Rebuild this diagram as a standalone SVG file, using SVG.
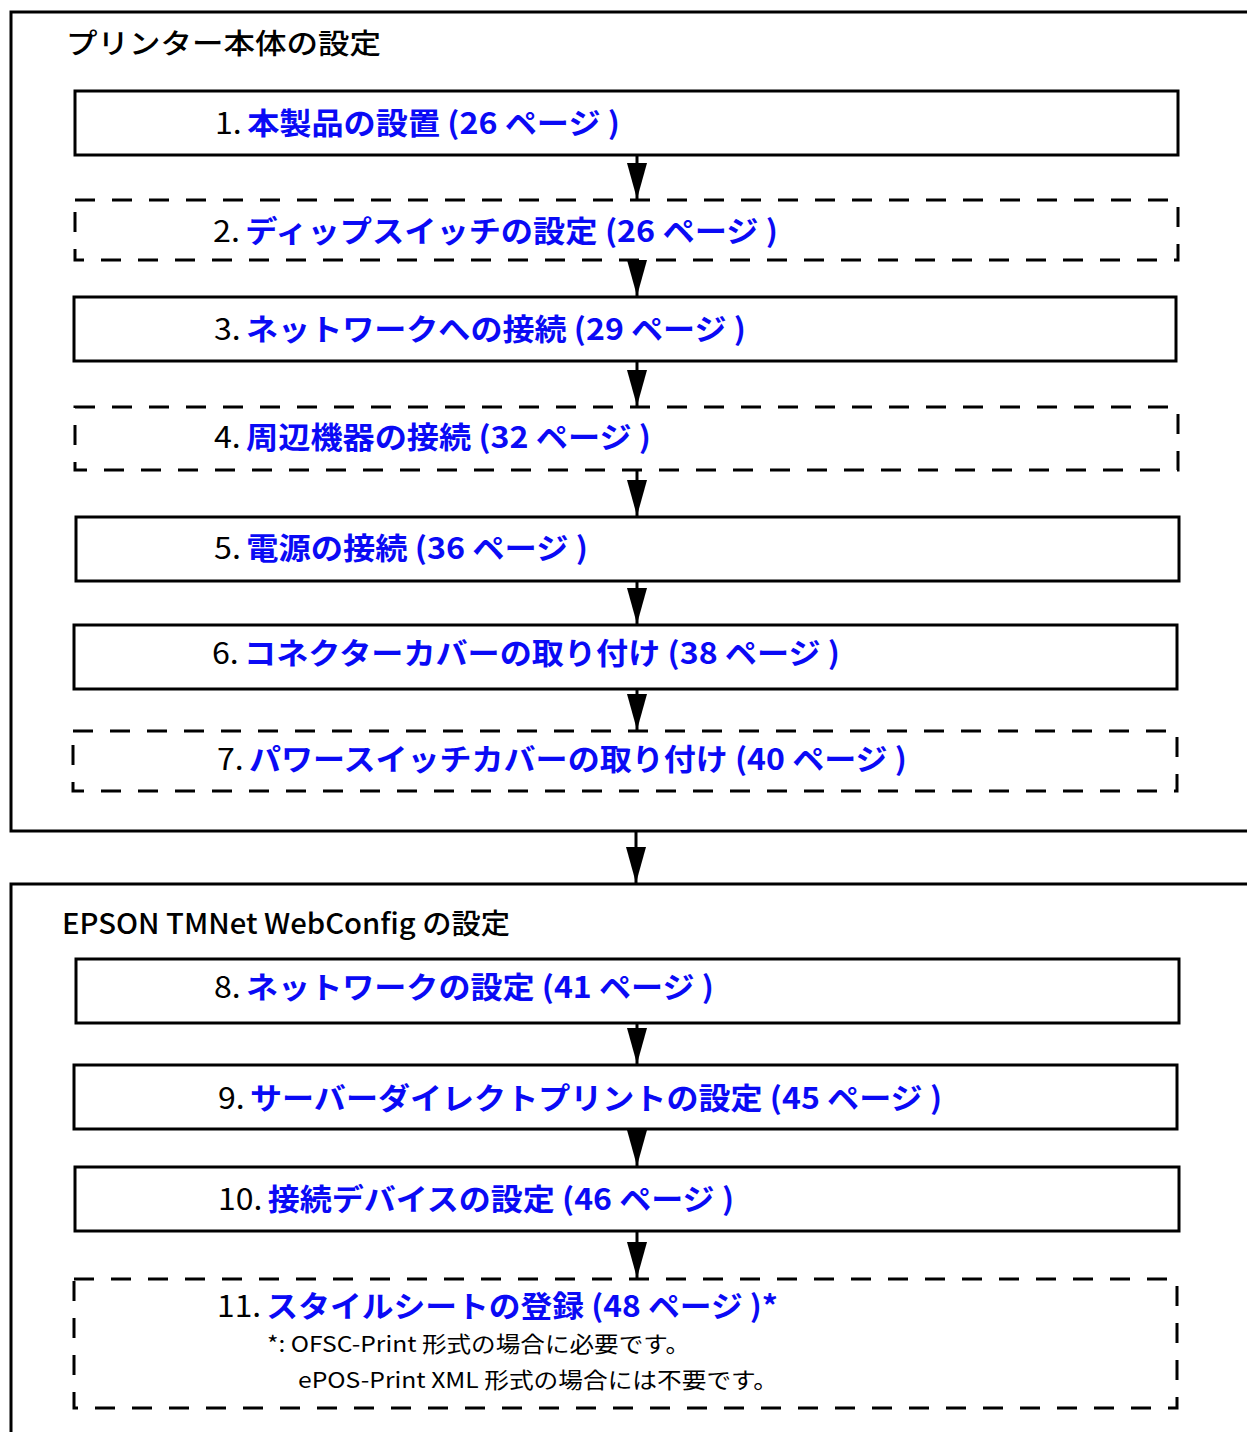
<svg xmlns="http://www.w3.org/2000/svg" width="1247" height="1432" viewBox="0 0 1247 1432">
<style>
.frame{fill:none;stroke:#000;stroke-width:3}
.box{fill:#fff;stroke:#000;stroke-width:3}
.dash{fill:#fff;stroke:#000;stroke-width:3;stroke-dasharray:20 17}
.lbl{font-family:"Noto Sans CJK JP","Noto Sans",sans-serif;font-size:30px;font-weight:bold}
.num{fill:#000;font-weight:normal}
.blue{fill:#0a0af5}
.title{font-family:"Noto Sans CJK JP","Noto Sans",sans-serif;font-size:28px;font-weight:500;fill:#000}
.note{font-family:"Noto Sans CJK JP","Noto Sans",sans-serif;font-size:22px;fill:#000}
.conn{stroke:#000;stroke-width:3;fill:none}
</style>
<defs>
<marker id="ah" markerUnits="userSpaceOnUse" markerWidth="36" markerHeight="20" viewBox="0 0 36 20" refX="36" refY="10" orient="auto">
<path d="M0,0 L36,10 L0,20 Z" fill="#000"/>
</marker>
</defs>
<rect width="1247" height="1432" fill="#fff"/>
<g id="group-printer">
<path class="frame" d="M1250,12 H11 V831 H1250"/>
<text class="title" x="66" y="54" textLength="315" lengthAdjust="spacingAndGlyphs">プリンター本体の設定</text>
</g>
<g id="group-webconfig">
<path class="frame" d="M1250,884 H11 V1440"/>
<text class="title" x="62" y="934" textLength="448" lengthAdjust="spacingAndGlyphs">EPSON TMNet WebConfig の設定</text>
</g>
<g id="connectors">
<line class="conn" x1="637" y1="155" x2="637" y2="199" marker-end="url(#ah)"/>
<line class="conn" x1="637" y1="260" x2="637" y2="296" marker-end="url(#ah)"/>
<line class="conn" x1="637" y1="361" x2="637" y2="406" marker-end="url(#ah)"/>
<line class="conn" x1="637" y1="470" x2="637" y2="516" marker-end="url(#ah)"/>
<line class="conn" x1="637" y1="581" x2="637" y2="624" marker-end="url(#ah)"/>
<line class="conn" x1="637" y1="689" x2="637" y2="730" marker-end="url(#ah)"/>
<line class="conn" x1="636" y1="831" x2="636" y2="883" marker-end="url(#ah)"/>
<line class="conn" x1="637" y1="1023" x2="637" y2="1064" marker-end="url(#ah)"/>
<line class="conn" x1="637" y1="1129" x2="637" y2="1166" marker-end="url(#ah)"/>
<line class="conn" x1="637" y1="1231" x2="637" y2="1278" marker-end="url(#ah)"/>
</g>
<g id="n1">
<rect class="box" x="75" y="91" width="1103" height="64"/>
<text class="lbl" x="215" y="134" textLength="405" lengthAdjust="spacingAndGlyphs"><tspan class="num">1.</tspan><tspan class="blue" dx="5">本製品の設置 (26 ページ )</tspan></text>
</g>
<g id="n2">
<rect class="dash" x="75" y="200" width="1103" height="60"/>
<text class="lbl" x="213" y="242" textLength="565" lengthAdjust="spacingAndGlyphs"><tspan class="num">2.</tspan><tspan class="blue" dx="5">ディップスイッチの設定 (26 ページ )</tspan></text>
</g>
<g id="n3">
<rect class="box" x="74" y="297" width="1102" height="64"/>
<text class="lbl" x="214" y="340" textLength="532" lengthAdjust="spacingAndGlyphs"><tspan class="num">3.</tspan><tspan class="blue" dx="5">ネットワークへの接続 (29 ページ )</tspan></text>
</g>
<g id="n4">
<rect class="dash" x="75" y="407" width="1103" height="63"/>
<text class="lbl" x="214" y="448" textLength="437" lengthAdjust="spacingAndGlyphs"><tspan class="num">4.</tspan><tspan class="blue" dx="5">周辺機器の接続 (32 ページ )</tspan></text>
</g>
<g id="n5">
<rect class="box" x="76" y="517" width="1103" height="64"/>
<text class="lbl" x="214" y="559" textLength="374" lengthAdjust="spacingAndGlyphs"><tspan class="num">5.</tspan><tspan class="blue" dx="5">電源の接続 (36 ページ )</tspan></text>
</g>
<g id="n6">
<rect class="box" x="74" y="625" width="1103" height="64"/>
<text class="lbl" x="212" y="664" textLength="628" lengthAdjust="spacingAndGlyphs"><tspan class="num">6.</tspan><tspan class="blue" dx="5">コネクターカバーの取り付け (38 ページ )</tspan></text>
</g>
<g id="n7">
<rect class="dash" x="73" y="731" width="1104" height="60"/>
<text class="lbl" x="217" y="770" textLength="690" lengthAdjust="spacingAndGlyphs"><tspan class="num">7.</tspan><tspan class="blue" dx="5">パワースイッチカバーの取り付け (40 ページ )</tspan></text>
</g>
<g id="n8">
<rect class="box" x="76" y="959" width="1103" height="64"/>
<text class="lbl" x="214" y="998" textLength="500" lengthAdjust="spacingAndGlyphs"><tspan class="num">8.</tspan><tspan class="blue" dx="5">ネットワークの設定 (41 ページ )</tspan></text>
</g>
<g id="n9">
<rect class="box" x="74" y="1065" width="1103" height="64"/>
<text class="lbl" x="218" y="1109" textLength="724" lengthAdjust="spacingAndGlyphs"><tspan class="num">9.</tspan><tspan class="blue" dx="5">サーバーダイレクトプリントの設定 (45 ページ )</tspan></text>
</g>
<g id="n10">
<rect class="box" x="75" y="1167" width="1104" height="64"/>
<text class="lbl" x="218" y="1210" textLength="516" lengthAdjust="spacingAndGlyphs"><tspan class="num">10.</tspan><tspan class="blue" dx="5">接続デバイスの設定 (46 ページ )</tspan></text>
</g>
<g id="n11">
<rect class="dash" x="74" y="1279" width="1103" height="129"/>
<text class="lbl" x="217" y="1317" textLength="561" lengthAdjust="spacingAndGlyphs"><tspan class="num">11.</tspan><tspan class="blue" dx="5">スタイルシートの登録 (48 ページ )*</tspan></text>
<text class="note" x="267" y="1352" textLength="423" lengthAdjust="spacingAndGlyphs">*: OFSC-Print 形式の場合に必要です。</text>
<text class="note" x="298" y="1388" textLength="480" lengthAdjust="spacingAndGlyphs">ePOS-Print XML 形式の場合には不要です。</text>
</g>
</svg>
